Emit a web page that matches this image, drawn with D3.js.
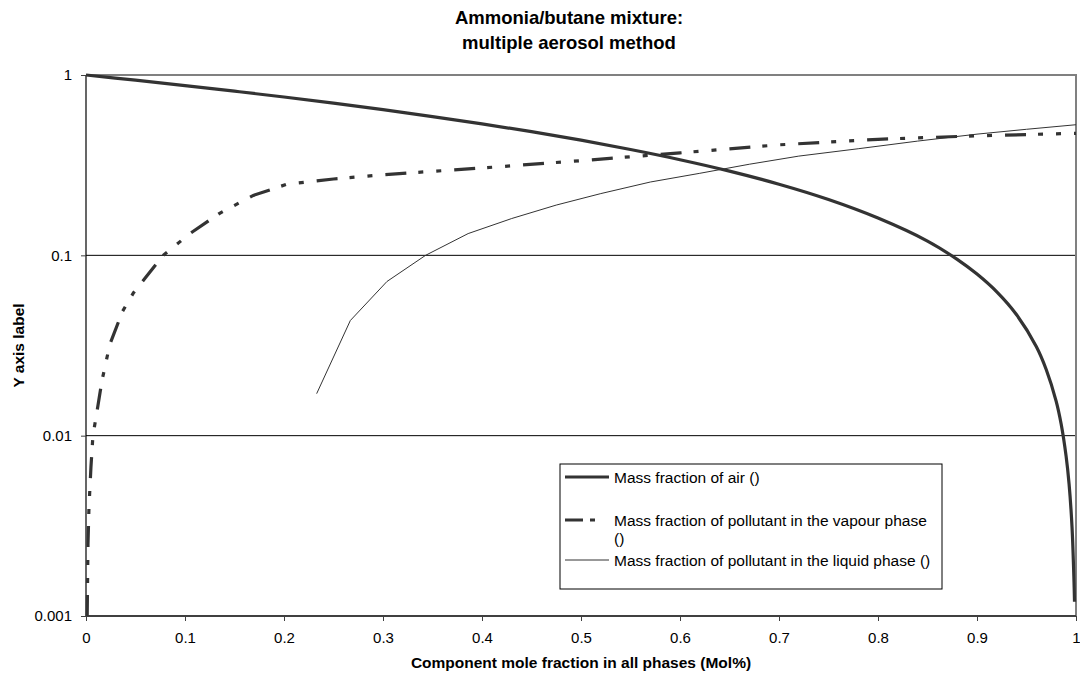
<!DOCTYPE html>
<html>
<head>
<meta charset="utf-8">
<script src="https://cdn.jsdelivr.net/npm/d3@7"></script>
<style>
  html, body { margin: 0; padding: 0; background: #fff; }
  svg { display: block; font-family: "Liberation Sans", Arial, sans-serif; }
</style>
</head>
<body>
<svg id="chart" width="1080" height="680"></svg>
<script>
// Mole fraction of the component in all phases (x) and the three mass fractions (y)
const airX = [0, 0.05, 0.1, 0.15, 0.2, 0.25, 0.3, 0.35, 0.4, 0.45, 0.5, 0.55, 0.6, 0.65, 0.7, 0.75, 0.8, 0.85, 0.88, 0.9, 0.92, 0.94, 0.96, 0.97, 0.98, 0.985, 0.99, 0.993, 0.996, 0.998, 0.9985];
const airY = [1, 0.936, 0.874, 0.813, 0.755, 0.698, 0.642, 0.588, 0.536, 0.485, 0.435, 0.386, 0.339, 0.293, 0.248, 0.204, 0.161, 0.12, 0.095, 0.0787, 0.0627, 0.0468, 0.0311, 0.0232, 0.0155, 0.0116, 0.0077, 0.0054, 0.0031, 0.00154, 0.0012];

const vapX = [0.0012, 0.002, 0.003, 0.005, 0.007, 0.011, 0.016, 0.024, 0.037, 0.048, 0.06, 0.078, 0.105, 0.135, 0.169, 0.203, 0.25, 0.3, 0.4, 0.5, 0.6, 0.7, 0.8, 0.9, 1.0];
const vapY = [0.001, 0.0025, 0.004, 0.0067, 0.01, 0.0135, 0.02, 0.032, 0.049, 0.062, 0.075, 0.1, 0.132, 0.171, 0.215, 0.248, 0.265, 0.28, 0.305, 0.335, 0.37, 0.41, 0.44, 0.46, 0.475];

const liqX = [0.233, 0.267, 0.304, 0.343, 0.386, 0.43, 0.475, 0.52, 0.57, 0.62, 0.67, 0.72, 0.78, 0.84, 0.9, 0.95, 1.0];
const liqY = [0.0171, 0.0435, 0.0716, 0.1, 0.132, 0.16, 0.19, 0.22, 0.255, 0.285, 0.32, 0.355, 0.39, 0.43, 0.47, 0.5, 0.53];

const xTicks = [0, 0.1, 0.2, 0.3, 0.4, 0.5, 0.6, 0.7, 0.8, 0.9, 1];
const yTicks = [0.001, 0.01, 0.1, 1];
const yGrid = [0.01, 0.1];

const titleLines = ["Ammonia/butane mixture:", "multiple aerosol method"];
const xTitle = "Component mole fraction in all phases (Mol%)";
const yTitle = "Y axis label";
const seriesNames = [
  "Mass fraction of air ()",
  "Mass fraction of pollutant in the vapour phase",
  "Mass fraction of pollutant in the liquid phase ()"
];

const svg = d3.select("#chart");
const plot = { left: 86, right: 1076, top: 75, bottom: 616 };

const x = d3.scaleLinear().domain([0, 1]).range([plot.left, plot.right]);
const y = d3.scaleLog().domain([0.001, 1]).range([plot.bottom, plot.top]);

// Horizontal gridlines
svg.append("g").selectAll("line").data(yGrid).join("line")
  .attr("x1", plot.left).attr("x2", plot.right)
  .attr("y1", d => y(d)).attr("y2", d => y(d))
  .attr("stroke", "#000").attr("stroke-width", 1);

// Plot area frame (top and right)
svg.append("path")
  .attr("d", `M${plot.left},${plot.top}H${plot.right}V${plot.bottom}`)
  .attr("fill", "none").attr("stroke", "#808080").attr("stroke-width", 2);

// Axes
const xAxis = d3.axisBottom(x).tickValues(xTicks).tickSize(5).tickPadding(11)
  .tickFormat(d => String(d));
const gx = svg.append("g").attr("transform", `translate(0,${plot.bottom})`).call(xAxis);
gx.select(".domain").attr("stroke", "#404040").attr("stroke-width", 2).attr("d", `M${plot.left},0H${plot.right}`);
gx.selectAll(".tick line").attr("stroke", "#404040");

const yAxis = d3.axisLeft(y).tickValues(yTicks).tickSize(5).tickPadding(9)
  .tickFormat(d => String(d));
const gy = svg.append("g").attr("transform", `translate(${plot.left},0)`).call(yAxis);
gy.select(".domain").attr("stroke", "#000").attr("stroke-width", 1.2).attr("d", `M0,${plot.bottom}V${plot.top}`);
gy.selectAll(".tick line").attr("stroke", "#404040");

svg.selectAll(".tick text")
  .attr("font-family", "Liberation Sans, Arial, sans-serif")
  .attr("font-size", 15).attr("fill", "#000");

// Series
const line = d3.line().x(d => x(d[0])).y(d => y(d[1]));
const smooth = d3.line().x(d => x(d[0])).y(d => y(d[1])).curve(d3.curveCatmullRom.alpha(0.5));
const zip = (a, b) => a.map((v, i) => [v, b[i]]);
const vapDash = "21,12,5,13,5,13";

svg.append("path").datum(zip(liqX, liqY))
  .attr("d", line).attr("fill", "none")
  .attr("stroke", "#333").attr("stroke-width", 1);

svg.append("path").datum(zip(vapX, vapY))
  .attr("d", line).attr("fill", "none")
  .attr("stroke", "#333").attr("stroke-width", 3.2)
  .attr("stroke-dasharray", vapDash);

svg.append("path").datum(zip(airX, airY))
  .attr("d", smooth).attr("fill", "none")
  .attr("stroke", "#333").attr("stroke-width", 3.2)
  .attr("stroke-linejoin", "round");

// Titles
const title = svg.append("text")
  .attr("text-anchor", "middle")
  .attr("font-size", 18.5).attr("font-weight", "bold");
title.selectAll("tspan").data(titleLines).join("tspan")
  .attr("x", 569).attr("y", (d, i) => 24 + i * 24.5).text(d => d);

svg.append("text")
  .attr("x", (plot.left + plot.right) / 2).attr("y", 668)
  .attr("text-anchor", "middle").attr("font-size", 15.5).attr("font-weight", "bold")
  .text(xTitle);

svg.append("text")
  .attr("transform", `translate(24,${(plot.top + plot.bottom) / 2}) rotate(-90)`)
  .attr("text-anchor", "middle").attr("font-size", 15.5).attr("font-weight", "bold")
  .text(yTitle);

// Legend
const lg = svg.append("g").attr("transform", "translate(560,464)");
lg.append("rect").attr("width", 382).attr("height", 125)
  .attr("fill", "#fff").attr("stroke", "#000").attr("stroke-width", 1);

const legendRows = [
  { y: 13, w: 3.2, dash: null },
  { y: 56, w: 3.2, dash: "18,7,5,100" },
  { y: 96, w: 1, dash: null }
];
legendRows.forEach((r, i) => {
  lg.append("line").attr("x1", 5).attr("x2", 49).attr("y1", r.y).attr("y2", r.y)
    .attr("stroke", "#333").attr("stroke-width", r.w)
    .attr("stroke-dasharray", r.dash);
  lg.append("text").attr("x", 54).attr("y", r.y + 5.5).attr("font-size", 15.5)
    .text(seriesNames[i]);
});
lg.append("text").attr("x", 54).attr("y", 56 + 23.5).attr("font-size", 15.5).text("()");
</script>
</body>
</html>
